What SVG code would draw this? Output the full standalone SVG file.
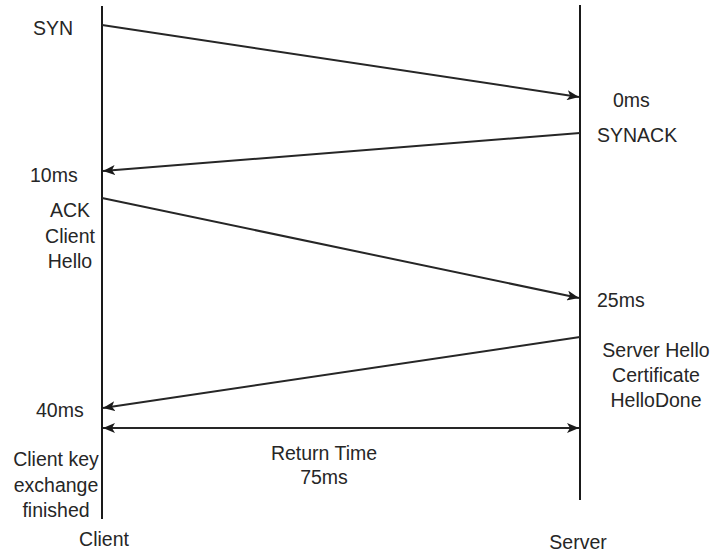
<svg xmlns="http://www.w3.org/2000/svg" width="711" height="552" viewBox="0 0 711 552">
  <style>
    .life { stroke: #1a1a1a; stroke-width: 2; fill: none; }
    .msg { stroke: #262626; stroke-width: 2; fill: none; }
    .lbl { font-family: "Liberation Sans", Arial, sans-serif; font-size: 19.5px; fill: #262626; }
    .c { text-anchor: middle; }
  </style>
  <defs>
    <marker id="ah" viewBox="0 0 12 10" refX="12" refY="5" markerWidth="12" markerHeight="10" markerUnits="userSpaceOnUse" orient="auto-start-reverse">
      <path d="M0,0 L12,5 L0,10 L3,5 Z" fill="#1a1a1a"/>
    </marker>
  </defs>
  <rect width="711" height="552" fill="#ffffff"/>

  <g id="client">
    <line class="life" x1="102" y1="6" x2="102" y2="519"/>
    <text class="lbl c" x="104" y="546">Client</text>
  </g>
  <g id="server">
    <line class="life" x1="580" y1="5" x2="580" y2="500"/>
    <text class="lbl c" x="578" y="549">Server</text>
  </g>

  <g id="connectors">
    <line class="msg" x1="102" y1="25" x2="579" y2="97" marker-end="url(#ah)"/>
    <line class="msg" x1="580" y1="133" x2="103" y2="171" marker-end="url(#ah)"/>
    <line class="msg" x1="102" y1="198" x2="579" y2="298" marker-end="url(#ah)"/>
    <line class="msg" x1="580" y1="337" x2="103" y2="408" marker-end="url(#ah)"/>
    <line class="msg" x1="103" y1="428" x2="579" y2="428" marker-start="url(#ah)" marker-end="url(#ah)"/>
  </g>

  <g id="labels">
    <text class="lbl" x="33" y="35">SYN</text>
    <text class="lbl" x="613" y="107">0ms</text>
    <text class="lbl" x="597" y="142">SYNACK</text>
    <text class="lbl" x="30" y="182">10ms</text>
    <text class="lbl c" x="70" y="217">ACK</text>
    <text class="lbl c" x="70" y="243">Client</text>
    <text class="lbl c" x="70" y="268">Hello</text>
    <text class="lbl" x="597" y="307">25ms</text>
    <text class="lbl c" x="656" y="357">Server Hello</text>
    <text class="lbl c" x="656" y="382">Certificate</text>
    <text class="lbl c" x="656" y="407">HelloDone</text>
    <text class="lbl" x="36" y="417">40ms</text>
    <text class="lbl c" x="56" y="466">Client key</text>
    <text class="lbl c" x="56" y="492">exchange</text>
    <text class="lbl c" x="56" y="517">finished</text>
    <text class="lbl c" x="324" y="460">Return Time</text>
    <text class="lbl c" x="324" y="484">75ms</text>
  </g>
</svg>
